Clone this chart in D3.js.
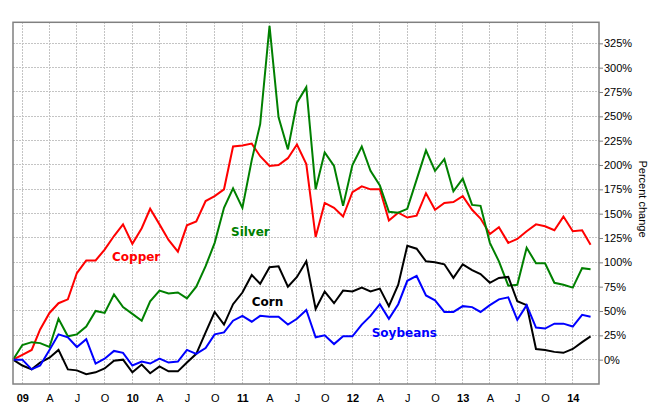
<!DOCTYPE html>
<html><head><meta charset="utf-8">
<script src="https://cdn.jsdelivr.net/npm/d3@7"></script>
<style>body{margin:0;background:#fff} svg{display:block}</style>
</head><body><svg id="c" width="650" height="414"></svg>
<script>
// Monthly points, Dec 2008 .. Mar 2014 (percent change since start)
const firstMonth = Date.UTC(2008, 11, 1);
const endMonth = Date.UTC(2014, 3, 1);
const copper = [0,5,10,31,48,58,62,89,102,102,113,127,139,119,135,155,139,123,111,138,142,163,168,175,219,220,222,209,199,200,207,221,201,126,161,156,147,172,178,175,175,143,151,146,148,171,154,161,162,168,154,145,129,136,120,124,132,139,137,133,147,132,133,118];
const silver = [0,15,18,17,13,42,24,26,34,50,48,67,54,47,40,60,71,68,69,63,75,96,120,156,176,156,205,242,343,249,216,264,280,175,213,199,158,200,219,194,179,152,151,155,185,215,194,206,173,186,159,158,120,101,76,77,115,99,99,79,77,74,94,93];
const corn = [0,-6,-10,-3,2,10,-10,-11,-15,-13,-9,-1,0,-13,-5,-14,-7,-12,-12,-3,6,28,49,36,57,69,87,78,95,96,75,85,101,52,70,58,71,70,74,70,73,55,77,117,114,101,100,98,84,98,92,88,79,84,85,60,56,11,10,8,7,11,18,24];
const soybeans = [0,0,-10,-6,10,26,23,13,21,-4,1,9,7,-6,-2,-4,1,-3,-2,10,6,12,26,28,40,45,39,45,44,44,36,42,51,23,25,16,24,24,36,45,57,42,57,81,86,66,61,49,49,55,54,49,56,62,64,41,56,33,32,37,37,34,46,44];
const seriesNames = ["Copper","Silver","Corn","Soybeans"];
const seriesColors = ["#ff0000","#008000","#000000","#0000ff"];
const yTickValues = [0,25,50,75,100,125,150,175,200,225,250,275,300,325];
const quarterLetters = {3:"A", 6:"J", 9:"O"};
const yAxisTitle = "Percent change";

const dates = d3.utcMonth.range(new Date(firstMonth), new Date(endMonth));
const allSeries = [copper, silver, corn, soybeans];

const L = 13, R = 599, T = 22.3, B = 384;
const x = d3.scaleUtc().domain([new Date(firstMonth), new Date(Date.UTC(2014, 2, 29))]).range([L, R]);
const y = d3.scaleLinear().domain([-25, 346.6]).range([B, T]);

const svg = d3.select("#c");
svg.append("rect").attr("width", 650).attr("height", 414).attr("fill", "#fff");

// grid
const xTicks = x.ticks(d3.utcMonth.every(3));
const grid = svg.append("g");
grid.selectAll("line.v").data(xTicks).join("line")
  .attr("x1", d => x(d)).attr("x2", d => x(d)).attr("y1", T).attr("y2", B)
  .attr("stroke", "#c4c4c4").attr("stroke-dasharray", "2,1").attr("shape-rendering", "crispEdges");
grid.selectAll("line.h").data(yTickValues).join("line")
  .attr("x1", L).attr("x2", R).attr("y1", d => y(d)).attr("y2", d => y(d))
  .attr("stroke", "#c4c4c4").attr("stroke-dasharray", "2,1").attr("shape-rendering", "crispEdges");

// series lines
const line = d3.line().x((d, i) => x(dates[i])).y(d => y(d));
allSeries.forEach((s, k) => {
  svg.append("path").datum(s).attr("d", line)
    .attr("fill", "none").attr("stroke", seriesColors[k]).attr("stroke-width", 2)
    .attr("stroke-linejoin", "miter");
});

// frame
svg.append("rect").attr("x", L).attr("y", T).attr("width", R - L).attr("height", B - T)
  .attr("fill", "none").attr("stroke", "#808080").attr("stroke-width", 1.5);

// x axis labels
const xAxis = d3.axisBottom(x).tickValues(xTicks).tickSize(0).tickPadding(0)
  .tickFormat(d => d.getUTCMonth() === 0 ? d3.utcFormat("%y")(d) : quarterLetters[d.getUTCMonth()]);
const gx = svg.append("g").attr("transform", `translate(0,${B})`).call(xAxis);
gx.select(".domain").remove();
gx.selectAll("text").attr("y", 17.5).attr("dy", null)
  .attr("font-family", "'Liberation Sans', Arial, sans-serif").attr("font-size", 11).attr("fill", "#000")
  .attr("font-weight", d => d.getUTCMonth() === 0 ? "bold" : "normal");

// y axis right
const yAxis = d3.axisRight(y).tickValues(yTickValues).tickSize(4).tickPadding(1).tickFormat(d => d + "%");
const gy = svg.append("g").attr("transform", `translate(${R},0)`).call(yAxis);
gy.select(".domain").remove();
gy.selectAll("line").attr("stroke", "#808080");
gy.selectAll("text").attr("font-family", "'Liberation Sans', Arial, sans-serif").attr("font-size", 11).attr("fill", "#000");

svg.append("text").attr("transform", "translate(638.5,199) rotate(90)")
  .attr("text-anchor", "middle").attr("font-family", "'Liberation Sans', Arial, sans-serif")
  .attr("font-size", 11).attr("fill", "#000").text(yAxisTitle);

// series labels
const labelPos = [[112, 260.5], [231, 235.7], [251.7, 305.7], [371.7, 337]];
seriesNames.forEach((n, k) => {
  svg.append("text").attr("x", labelPos[k][0]).attr("y", labelPos[k][1])
    .attr("font-family", "'DejaVu Sans', Verdana, sans-serif").attr("font-weight", "bold")
    .attr("font-size", 12).attr("fill", seriesColors[k]).text(n);
});
</script></body></html>
